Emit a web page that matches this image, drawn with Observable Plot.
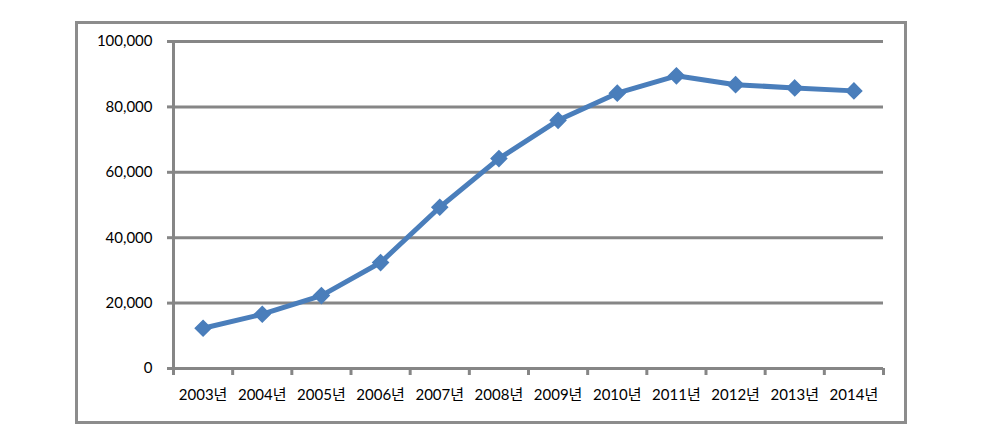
<!DOCTYPE html>
<html>
<head>
<meta charset="utf-8">
<script src="https://cdn.jsdelivr.net/npm/d3@7"></script>
<script src="https://cdn.jsdelivr.net/npm/@observablehq/plot@0.6"></script>
<style>
  html, body { margin: 0; padding: 0; background: #fff; }
  #wrap { position: relative; width: 985px; height: 431px; }
  #border { position: absolute; left: 75px; top: 21px; width: 826px; height: 397px; border: 3px solid #8c8c8c; pointer-events: none; }
  svg { position: absolute; left: 0; top: 0; }
</style>
</head>
<body>
<div id="wrap"><div id="border"></div></div>
<script>
const years = [2003, 2004, 2005, 2006, 2007, 2008, 2009, 2010, 2011, 2012, 2013, 2014];
const values = [12300, 16600, 22300, 32400, 49300, 64200, 75900, 84200, 89500, 86800, 85800, 84900];
const yTicks = [0, 20000, 40000, 60000, 80000, 100000];
const suffix = "년";

const data = years.map((y, i) => ({year: y, value: values[i]}));
const bounds = [...years.map(y => y - 0.5), years[years.length - 1] + 0.5];
const gray = "#868686";
const blue = "#4a7ebb";

const chart = Plot.plot({
  width: 985,
  height: 431,
  marginLeft: 173,
  marginRight: 102,
  marginTop: 41,
  marginBottom: 63,
  style: {fontFamily: "Lato, 'Noto Sans CJK KR', sans-serif", fontSize: "15px", color: "#000", background: "transparent"},
  x: {type: "linear", domain: [bounds[0], bounds[bounds.length - 1]]},
  y: {domain: [0, 100000]},
  marks: [
    Plot.gridY(yTicks, {stroke: gray, strokeOpacity: 1, strokeWidth: 3}),
    Plot.axisY({ticks: yTicks, tickSize: 6, tickPadding: 15, stroke: gray, strokeWidth: 3, tickFormat: d3.format(","), label: null, fill: "#000"}),
    Plot.axisX({ticks: bounds, tickSize: 7, tickFormat: () => "", stroke: gray, strokeWidth: 3, label: null}),
    Plot.axisX({ticks: years, tickSize: 0, tickPadding: 21, tickFormat: d => d + suffix, label: null, fill: "#000"}),
    Plot.ruleY([0], {stroke: gray, strokeWidth: 3}),
    Plot.ruleX([bounds[0]], {y1: 0, y2: 100000, stroke: gray, strokeWidth: 3}),
    Plot.line(data, {x: "year", y: "value", stroke: blue, strokeWidth: 5}),
    Plot.dot(data, {x: "year", y: "value", symbol: "diamond2", r: 7, fill: blue, stroke: blue})
  ]
});
document.getElementById("wrap").appendChild(chart);
</script>
</body>
</html>
